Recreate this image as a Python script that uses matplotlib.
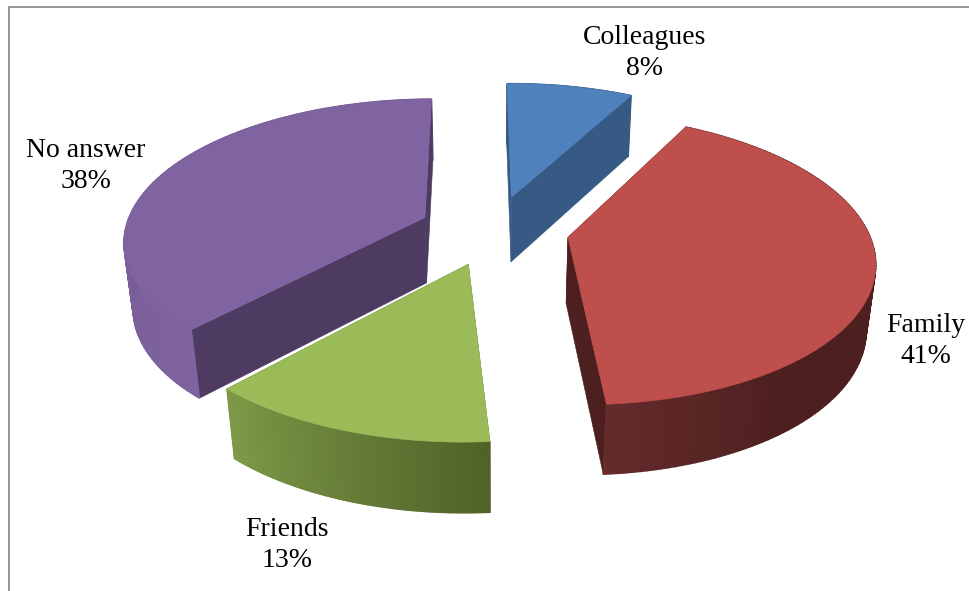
import matplotlib
matplotlib.use('Agg')
import matplotlib.pyplot as plt
from matplotlib.colors import to_rgb
import numpy as np

# chart data
names = ['Colleagues', 'Family', 'Friends', 'No answer']
values = [8, 41, 13, 38]

# styles
top_cols = ['#4F81BD', '#BE4F4C', '#9BBB59', '#8064A2']
cut_cols = ['#375A84', '#4D1F1F', '#4F6228', '#4D3B62']
# outer wall colour, from the slice's first angle to its last
wall_from = ['#375A84', '#4D1F1F', '#4F6228', '#7F63A1']
wall_to = ['#375A84', '#652B2B', '#7E9A48', '#6A5287']
label_xy = [(645, 53), (926, 341), (287, 545), (86, 166)]

# projection of the tilted pie onto the picture, in pixels
cx, cy = 494, 230
R, squash = 300, 0.466
persp, persp_z = 0.15, 0.025
explode = 0.25
depth = 67
start = np.radians(-0.5)


def project(X, Y, z=0.0):
    w = 1 / (1 + persp * Y + persp_z * z)
    return cx + R * X * w, cy - R * squash * Y * w + depth * z * w ** 0.8


def rim(a):
    return np.sin(a), np.cos(a)


fig = plt.figure(figsize=(9.69, 5.91), dpi=100)
ax = fig.add_axes([0, 0, 1, 1])
ax.set_xlim(0, 969)
ax.set_ylim(591, 0)
ax.axis('off')

# frame: only top and left show
ax.plot([9, 9, 969], [591, 7, 7], color='#8C8C8C', lw=1.3, solid_joinstyle='miter')

edges = start + np.cumsum([0] + values) / sum(values) * 2 * np.pi
# back slices first, front slices last
order = [0, 3, 1, 2]
for n, i in enumerate(order):
    a0, a1 = edges[i], edges[i + 1]
    mid = (a0 + a1) / 2
    ox, oy = explode * np.sin(mid), explode * np.cos(mid)
    ang = np.linspace(a0, a1, 121)
    rx, ry = rim(ang)
    X = ox + rx
    Y = oy + ry
    c0, c1 = np.array(to_rgb(wall_from[i])), np.array(to_rgb(wall_to[i]))

    def wall(front):
        # outer wall, in strips for the gradient
        for j in range(len(ang) - 1):
            if (ry[j] < 0.02) != front:
                continue
            t = j / (len(ang) - 2)
            if i == 1:
                t = max(0, (t - 0.78) / 0.22)
            col = c0 + (c1 - c0) * t
            xa, ya = project(X[j:j + 2], Y[j:j + 2], 0)
            xb, yb = project(X[j:j + 2], Y[j:j + 2], 1)
            ax.fill(np.r_[xa, xb[::-1]], np.r_[ya, yb[::-1]], color=col, lw=1.0, zorder=2 + n)

    wall(False)
    # the two cut faces
    for k in (0, -1):
        fx = np.array([ox, X[k], X[k], ox])
        fy = np.array([oy, Y[k], Y[k], oy])
        fz = np.array([0, 0, 1, 1])
        px, py = project(fx, fy, fz)
        ax.fill(px, py, color=cut_cols[i], lw=0.4, zorder=2 + n)
    wall(True)

    # top
    px, py = project(np.r_[ox, X], np.r_[oy, Y])
    ax.fill(px, py, color=top_cols[i], lw=0.4, zorder=2.5 + n)

for name, v, xy in zip(names, values, label_xy):
    ax.text(xy[0], xy[1], f'{name}\n{v}%', ha='center', va='center', family='Liberation Serif',
            fontsize=20, color='black', linespacing=1.27, zorder=10)

fig.savefig('out.png', dpi=100)
